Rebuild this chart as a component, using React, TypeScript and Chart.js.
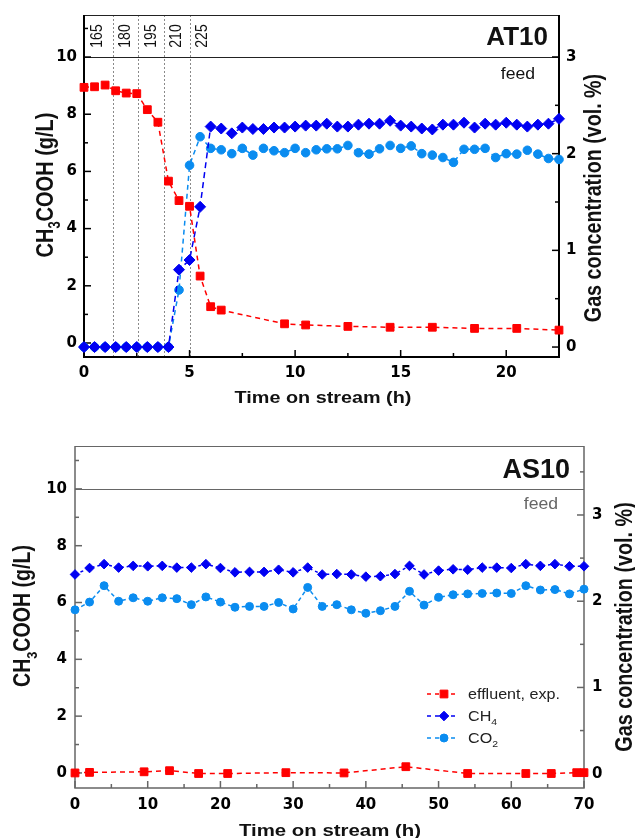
import React, { useEffect, useRef } from "react";
import { Chart, registerables } from "chart.js";

Chart.register(...registerables);

// ---------------- AT10 (upper panel) data ----------------
const at10EffluentTime = [0, 0.5, 1, 1.5, 2, 2.5, 3, 3.5, 4, 4.5, 5, 5.5, 6, 6.5, 9.5, 10.5, 12.5, 14.5, 16.5, 18.5, 20.5, 22.5];
const at10Effluent = [8.94, 8.96, 9.02, 8.82, 8.74, 8.72, 8.16, 7.72, 5.66, 4.98, 4.78, 2.34, 1.27, 1.15, 0.67, 0.63, 0.58, 0.55, 0.55, 0.51, 0.51, 0.45];
const at10GasTime = [0, 0.5, 1, 1.5, 2, 2.5, 3, 3.5, 4, 4.5, 5, 5.5, 6, 6.5, 7, 7.5, 8, 8.5, 9, 9.5, 10, 10.5, 11, 11.5, 12, 12.5, 13, 13.5, 14, 14.5, 15, 15.5, 16, 16.5, 17, 17.5, 18, 18.5, 19, 19.5, 20, 20.5, 21, 21.5, 22, 22.5];
const at10CH4 = [0, 0, 0, 0, 0, 0, 0, 0, 0, 0.8, 0.9, 1.45,
  2.28, 2.26, 2.21, 2.27, 2.255, 2.255, 2.27, 2.27, 2.28, 2.29, 2.29, 2.31, 2.28, 2.28, 2.3, 2.31, 2.31,
  2.34, 2.29, 2.28, 2.26, 2.25, 2.3, 2.3, 2.32, 2.27, 2.31, 2.3, 2.32, 2.3, 2.28, 2.3, 2.31, 2.36];
const at10CO2 = [0, 0, 0, 0, 0, 0, 0, 0, 0, 0.59, 1.88, 2.175,
  2.055, 2.04, 2.0, 2.055, 1.985, 2.055, 2.03, 2.01, 2.055, 2.01, 2.04, 2.05, 2.05, 2.085, 2.01, 1.995, 2.05,
  2.085, 2.055, 2.08, 2.0, 1.985, 1.96, 1.91, 2.045, 2.045, 2.055, 1.96, 2.0, 1.995, 2.035, 1.995, 1.95, 1.94];
const at10StepLabels = ["165", "180", "195", "210", "225"];
const at10StepStarts = [0, 1.35, 2.58, 3.77, 5.0];
const at10StepLines = [1.35, 2.58, 3.77, 5.0];

// ---------------- AS10 (lower panel) data ----------------
const as10EffluentTime = [0, 2, 9.5, 13, 17, 21, 29, 37, 45.5, 54, 62, 65.5, 69, 70];
const as10Effluent = [0, 0.02, 0.04, 0.08, -0.02, -0.02, 0.01, 0.0, 0.22, -0.02, -0.02, -0.02, 0.01, 0.01];
const as10GasTime = [0, 2, 4, 6, 8, 10, 12, 14, 16, 18, 20, 22, 24, 26, 28, 30, 32, 34, 36, 38, 40, 42, 44, 46, 48, 50, 52, 54, 56, 58, 60, 62, 64, 66, 68, 70];
const as10CH4 = [2.31, 2.385, 2.43, 2.39, 2.41, 2.405, 2.41, 2.39, 2.39, 2.43, 2.385, 2.335, 2.34, 2.34, 2.365, 2.335, 2.39, 2.31, 2.315, 2.31, 2.285, 2.29, 2.315, 2.41, 2.31, 2.355, 2.37, 2.365, 2.39, 2.39, 2.385, 2.43, 2.41, 2.43, 2.405, 2.405];
const as10CO2 = [1.9, 1.99, 2.18, 2.0, 2.04, 2.0, 2.04, 2.03, 1.96, 2.05, 1.99, 1.93, 1.94, 1.94, 1.985, 1.91, 2.16, 1.94, 1.96, 1.9, 1.86, 1.89, 1.94, 2.115, 1.955, 2.045, 2.075, 2.085, 2.09, 2.095, 2.09, 2.18, 2.13, 2.135, 2.085, 2.14];

// ---------------- labels ----------------
const seriesLabels = ["effluent, exp.", "CH4", "CO2"];
const xTitle = "Time on stream (h)";
const yTitle = "CH3COOH (g/L)";
const y1Title = "Gas concentration (vol. %)";
const feedText = "feed";
const feedLevel = 10;

const RED = "#ff0000";
const BLUE = "#0000f2";
const LIGHTBLUE = "#0a8cf0";
const LIB = "'Liberation Sans', Arial, sans-serif";
const DJV = "'DejaVu Sans', sans-serif";

type TextOpts = {
  size: number; weight?: string; family?: string; color?: string;
  align?: "left" | "center" | "right"; rot?: number; sx?: number; rich?: boolean;
};

function drawText(ctx: CanvasRenderingContext2D, text: string, x: number, y: number, o: TextOpts) {
  const parts = o.rich ? text.split(/(?<=[A-Z])(\d)/) : [text];
  const weight = o.weight ?? "normal";
  const family = o.family ?? LIB;
  const subSize = o.size * 0.65;
  const fonts = parts.map((_, i) => `${weight} ${i % 2 ? subSize : o.size}px ${family}`);
  ctx.save();
  ctx.translate(x, y);
  ctx.scale(o.sx ?? 1, 1);
  ctx.rotate(o.rot ?? 0);
  ctx.textBaseline = "alphabetic";
  ctx.textAlign = "left";
  ctx.fillStyle = o.color ?? "#000";
  const widths = parts.map((p, i) => { ctx.font = fonts[i]; return ctx.measureText(p).width; });
  const total = widths.reduce((a, b) => a + b, 0);
  let cx = o.align === "left" ? 0 : o.align === "right" ? -total : -total / 2;
  parts.forEach((p, i) => {
    ctx.font = fonts[i];
    ctx.fillText(p, cx, i % 2 ? o.size * 0.3 : 0);
    cx += widths[i];
  });
  ctx.restore();
}

type Range = { min: number; max: number; step: number };
type PanelSpec = {
  width: number; height: number;
  area: { left: number; top: number; right: number; bottom: number };
  x: Range; y: Range; y1: Range;
  axisColor: string; axisWidth: number; innerColor: string;
  labelPad: number;
  name: string; namePos: [number, number, number];
  feedPos: [number, number]; feedColor: string;
  xTitlePos: [number, number, number];
  yTitlePos: [number, number, number];
  y1TitlePos: [number, number, number];
  stepLines?: number[]; stepLabels?: string[]; stepStarts?: number[];
  legend?: { x1: number; x2: number; xm: number; xt: number; rows: number[] };
  effluent: { t: number[]; v: number[] };
  ch4: { t: number[]; v: number[] };
  co2: { t: number[]; v: number[] };
  marker: { rect: number; diamond: number; circle: number };
  dash: { red: number[]; blue: number[]; light: number[] };
};

function xy(t: number[], v: number[]) {
  return t.map((tt, i) => ({ x: tt, y: v[i] }));
}

function drawMarker(ctx: CanvasRenderingContext2D, kind: string, x: number, y: number, r: number, color: string) {
  ctx.save();
  ctx.fillStyle = color;
  ctx.strokeStyle = color;
  ctx.lineWidth = 1;
  ctx.setLineDash([]);
  ctx.beginPath();
  if (kind === "rect") {
    const s = r * Math.SQRT1_2;
    ctx.rect(x - s, y - s, 2 * s, 2 * s);
  } else if (kind === "rectRot") {
    ctx.moveTo(x - r, y); ctx.lineTo(x, y - r); ctx.lineTo(x + r, y); ctx.lineTo(x, y + r); ctx.closePath();
  } else {
    ctx.arc(x, y, r, 0, Math.PI * 2);
  }
  ctx.fill();
  ctx.stroke();
  ctx.restore();
}

function drawScaleTicks(ctx: CanvasRenderingContext2D, scale: any, step: number, side: string, a: any) {
  const vals: number[] = scale.ticks.map((t: any) => t.value);
  const minors: number[] = [];
  vals.forEach((v) => { if (v + step / 2 <= scale.max + 1e-9) minors.push(v + step / 2); });
  if (vals.length && vals[0] - step / 2 >= scale.min) minors.push(vals[0] - step / 2);
  const draw = (v: number, len: number) => {
    const p = scale.getPixelForValue(v);
    ctx.beginPath();
    if (side === "left") { ctx.moveTo(a.left, p); ctx.lineTo(a.left + len, p); }
    else if (side === "right") { ctx.moveTo(a.right, p); ctx.lineTo(a.right - len, p); }
    else { ctx.moveTo(p, a.bottom); ctx.lineTo(p, a.bottom - len); }
    ctx.stroke();
  };
  vals.forEach((v) => draw(v, 7));
  minors.forEach((v) => draw(v, 4));
}

function makePlugin(spec: PanelSpec) {
  return {
    id: "panelDecor",
    beforeDatasetsDraw(chart: any) {
      const { ctx, chartArea: a, scales } = chart;
      const xs = scales.x, ys = scales.y, y1s = scales.y1;
      ctx.save();
      // vertical dotted step lines
      if (spec.stepLines) {
        ctx.strokeStyle = "#8a8a8a";
        ctx.lineWidth = 1;
        ctx.setLineDash([2, 2]);
        spec.stepLines.forEach((t) => {
          const px = Math.round(xs.getPixelForValue(t)) + 0.5;
          ctx.beginPath(); ctx.moveTo(px, a.top); ctx.lineTo(px, a.bottom); ctx.stroke();
        });
        ctx.setLineDash([]);
      }
      // feed line
      const fy = Math.round(ys.getPixelForValue(feedLevel)) + 0.5;
      ctx.strokeStyle = spec.innerColor;
      ctx.lineWidth = 1;
      ctx.beginPath(); ctx.moveTo(a.left, fy); ctx.lineTo(a.right, fy); ctx.stroke();
      // top border
      ctx.beginPath(); ctx.moveTo(a.left, a.top + 0.5); ctx.lineTo(a.right, a.top + 0.5); ctx.stroke();
      // axes
      ctx.strokeStyle = spec.axisColor;
      ctx.lineWidth = spec.axisWidth;
      ctx.beginPath();
      ctx.moveTo(a.left, a.top); ctx.lineTo(a.left, a.bottom); ctx.lineTo(a.right, a.bottom); ctx.lineTo(a.right, a.top);
      ctx.stroke();
      ctx.lineWidth = 1.5;
      drawScaleTicks(ctx, ys, spec.y.step, "left", a);
      drawScaleTicks(ctx, y1s, spec.y1.step, "right", a);
      drawScaleTicks(ctx, xs, spec.x.step, "bottom", a);
      ctx.restore();
    },
    afterDraw(chart: any) {
      const { ctx, chartArea: a, scales } = chart;
      const xs = scales.x, ys = scales.y;
      const fy = ys.getPixelForValue(feedLevel);
      // step labels
      if (spec.stepLabels && spec.stepStarts) {
        spec.stepLabels.forEach((lab, i) => {
          const px = xs.getPixelForValue(spec.stepStarts![i]) + 12.5;
          drawText(ctx, lab, px + 5, (a.top + fy) / 2, { size: 14, rot: -Math.PI / 2, sx: 1.2, color: "#111" });
        });
      }
      drawText(ctx, spec.name, spec.namePos[0], spec.namePos[1], { size: spec.namePos[2], weight: "bold", align: "right", color: "#111" });
      drawText(ctx, feedText, spec.feedPos[0], spec.feedPos[1], { size: 16, align: "right", sx: 1.1, color: spec.feedColor });
      drawText(ctx, xTitle, spec.xTitlePos[0], spec.xTitlePos[1], { size: spec.xTitlePos[2], weight: "bold", sx: 1.2, color: "#111" });
      drawText(ctx, yTitle, spec.yTitlePos[0], spec.yTitlePos[1], { size: spec.yTitlePos[2], weight: "bold", sx: 1.2, rot: -Math.PI / 2, rich: true, color: "#111" });
      drawText(ctx, y1Title, spec.y1TitlePos[0], spec.y1TitlePos[1], { size: spec.y1TitlePos[2], weight: "bold", sx: 1.2, rot: -Math.PI / 2, color: "#111" });
      if (spec.legend) {
        const L = spec.legend;
        const colors = [RED, BLUE, LIGHTBLUE];
        const kinds = ["rect", "rectRot", "circle"];
        const sizes = [spec.marker.rect, spec.marker.diamond, spec.marker.circle];
        const dashes = [spec.dash.red, spec.dash.blue, spec.dash.light];
        seriesLabels.forEach((lab, i) => {
          const ry = L.rows[i];
          ctx.save();
          ctx.strokeStyle = colors[i];
          ctx.lineWidth = 1.5;
          ctx.setLineDash([4, 4]);
          ctx.beginPath(); ctx.moveTo(L.x1, ry); ctx.lineTo(L.x2, ry); ctx.stroke();
          ctx.restore();
          drawMarker(ctx, kinds[i], L.xm, ry, sizes[i], colors[i]);
          drawText(ctx, lab, L.xt, ry + 5, { size: 14, align: "left", sx: 1.15, rich: true, color: "#222" });
        });
      }
    },
  };
}

function buildConfig(spec: PanelSpec): any {
  const tickFont = { family: DJV, weight: "bold" as const, size: 15 };
  const common = (r: Range) => ({
    type: "linear",
    min: r.min,
    max: r.max,
    ticks: { stepSize: r.step, includeBounds: false, font: tickFont, color: "#000", padding: spec.labelPad, maxRotation: 0, autoSkip: false },
    grid: { display: false, drawTicks: false },
    border: { display: false },
  });
  const ds = (label: string, d: { t: number[]; v: number[] }, axis: string, color: string, style: string, radius: number, dash: number[]) => ({
    label,
    data: xy(d.t, d.v),
    yAxisID: axis,
    borderColor: color,
    backgroundColor: color,
    borderWidth: 1.5,
    borderDash: dash,
    pointStyle: style,
    pointRadius: radius,
    pointBorderWidth: 1,
    pointBackgroundColor: color,
    pointBorderColor: color,
    tension: 0,
    fill: false,
    clip: false,
  });
  return {
    type: "line",
    data: {
      datasets: [
        ds(seriesLabels[0], spec.effluent, "y", RED, "rect", spec.marker.rect, spec.dash.red),
        ds(seriesLabels[1], spec.ch4, "y1", BLUE, "rectRot", spec.marker.diamond, spec.dash.blue),
        ds(seriesLabels[2], spec.co2, "y1", LIGHTBLUE, "circle", spec.marker.circle, spec.dash.light),
      ],
    },
    options: {
      responsive: false,
      maintainAspectRatio: false,
      animation: false,
      devicePixelRatio: 1,
      layout: { padding: { top: spec.area.top, left: 0, right: 0, bottom: 0 } },
      plugins: { legend: { display: false }, tooltip: { enabled: false }, title: { display: false } },
      scales: {
        x: {
          ...common(spec.x),
          position: "bottom",
          afterFit: (s: any) => { s.height = spec.height - spec.area.bottom; s.paddingLeft = 0; s.paddingRight = 0; },
        },
        y: {
          ...common(spec.y),
          position: "left",
          afterFit: (s: any) => { s.width = spec.area.left; s.paddingTop = 0; s.paddingBottom = 0; },
        },
        y1: {
          ...common(spec.y1),
          position: "right",
          afterFit: (s: any) => { s.width = spec.width - spec.area.right; s.paddingTop = 0; s.paddingBottom = 0; },
        },
      },
    },
    plugins: [makePlugin(spec)],
  };
}

const topSpec: PanelSpec = {
  width: 635, height: 415,
  area: { left: 84, top: 15, right: 559, bottom: 357 },
  x: { min: 0, max: 22.5, step: 5 },
  y: { min: -0.49, max: 11.47, step: 2 },
  y1: { min: -0.103, max: 3.434, step: 1 },
  axisColor: "#000", axisWidth: 2, innerColor: "#222",
  labelPad: 7,
  name: "AT10", namePos: [548, 45, 26],
  feedPos: [535, 79], feedColor: "#111",
  xTitlePos: [323, 403, 16.5],
  yTitlePos: [53, 185, 20],
  y1TitlePos: [601, 198, 19.7],
  stepLines: at10StepLines, stepLabels: at10StepLabels, stepStarts: at10StepStarts,
  effluent: { t: at10EffluentTime, v: at10Effluent },
  ch4: { t: at10GasTime, v: at10CH4 },
  co2: { t: at10GasTime, v: at10CO2 },
  marker: { rect: 5.5, diamond: 5.5, circle: 4.3 },
  dash: { red: [5, 4], blue: [6, 4], light: [5, 4] },
};

const bottomSpec: PanelSpec = {
  width: 635, height: 423,
  area: { left: 75, top: 31, right: 584, bottom: 373 },
  x: { min: 0, max: 70, step: 10 },
  y: { min: -0.53, max: 11.51, step: 2 },
  y1: { min: -0.166, max: 3.8, step: 1 },
  axisColor: "#666", axisWidth: 1.5, innerColor: "#666",
  labelPad: 8,
  name: "AS10", namePos: [570, 63, 27],
  feedPos: [558, 94], feedColor: "#666",
  xTitlePos: [330, 421, 17],
  yTitlePos: [30, 201, 19.6],
  y1TitlePos: [632, 212, 19.8],
  legend: { x1: 427, x2: 458, xm: 444, xt: 468, rows: [279, 301, 323] },
  effluent: { t: as10EffluentTime, v: as10Effluent },
  ch4: { t: as10GasTime, v: as10CH4 },
  co2: { t: as10GasTime, v: as10CO2 },
  marker: { rect: 5.5, diamond: 4.8, circle: 4.0 },
  dash: { red: [5, 4], blue: [3, 3], light: [4, 3] },
};

function PanelChart({ spec, top }: { spec: PanelSpec; top: number }) {
  const ref = useRef<HTMLCanvasElement>(null);
  useEffect(() => {
    if (!ref.current) return;
    const chart = new Chart(ref.current, buildConfig(spec));
    return () => chart.destroy();
  }, [spec]);
  return (
    <canvas
      ref={ref}
      width={spec.width}
      height={spec.height}
      style={{ position: "absolute", left: 0, top, width: spec.width, height: spec.height, display: "block" }}
    />
  );
}

export default function App() {
  return (
    <div style={{ position: "absolute", left: 0, top: 0, width: 635, height: 838, background: "#fff", overflow: "hidden" }}>
      <PanelChart spec={topSpec} top={0} />
      <PanelChart spec={bottomSpec} top={415} />
    </div>
  );
}
